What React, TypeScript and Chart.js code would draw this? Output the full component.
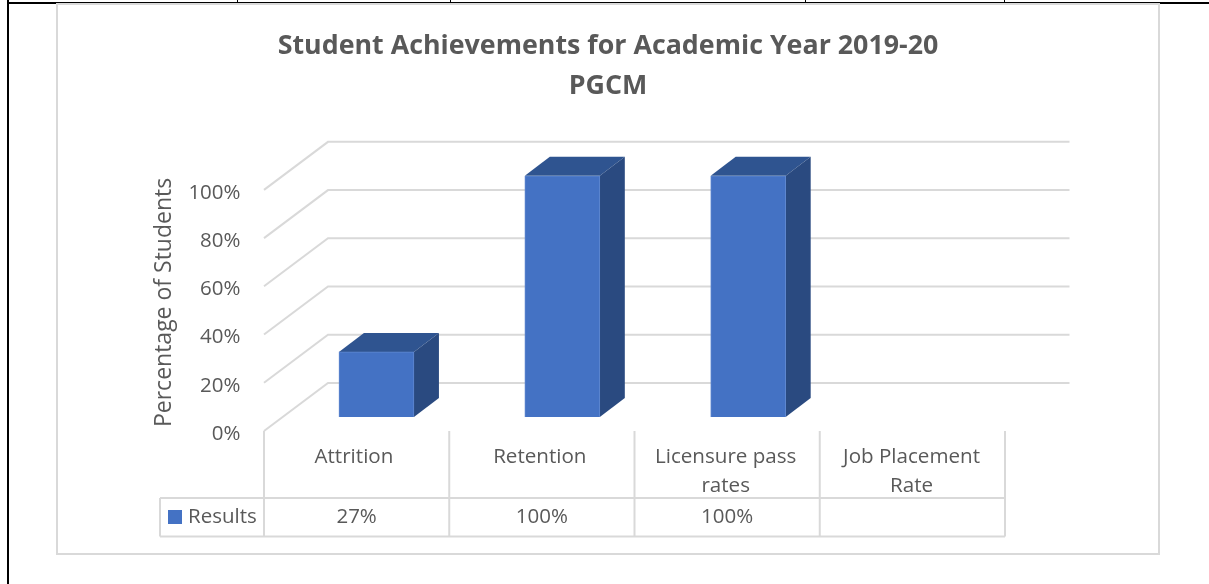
import React, { useEffect, useRef } from "react";
import { Chart, registerables } from "chart.js";

Chart.register(...registerables);

const titleLines = ["Student Achievements for Academic Year 2019-20", "PGCM"];
const axisTitle = "Percentage of Students  ";
const seriesName = "Results";
const categories = [["Attrition"], ["Retention"], ["Licensure pass", "rates"], ["Job Placement", "Rate"]];
const results: (number | null)[] = [27, 100, 100, null];
const FONT = '"Open Sans", sans-serif';
const TEXT = "#595959";
const GRID = "#d9d9d9";
const BLUE = "#4472c4";

const threeD = {
  id: "threeD",
  beforeDraw(chart: any) {
    const c = chart.ctx;
    c.save();
    c.fillStyle = "#fff";
    c.fillRect(0, 0, chart.width, chart.height);
    // page table rules
    c.fillStyle = "#000";
    c.fillRect(7, 2, 1202, 1);
    c.fillRect(7, 2, 49, 2);
    c.fillRect(1160, 2, 49, 2);
    c.fillRect(7, 0, 2, 584);
    [237, 450, 805, 1004].forEach((x) => c.fillRect(x, 0, 1, 3));
    // chart frame
    c.strokeStyle = GRID;
    c.lineWidth = 2;
    c.strokeRect(57, 4, 1102, 550);
    c.restore();
  },
  beforeDatasetsDraw(chart: any) {
    const c = chart.ctx;
    const { x, y } = chart.scales;
    const fx = -19.5, fy = 14, bx = 44.5, by = -34;
    c.save();
    c.strokeStyle = GRID;
    c.lineWidth = 2;
    y.ticks.forEach((t: any) => {
      const p = y.getPixelForValue(t.value);
      c.beginPath();
      c.moveTo(x.left + fx, p + fy);
      c.lineTo(x.left + bx, p + by);
      c.lineTo(x.right + bx - 2, p + by);
      c.stroke();
    });
    // data table
    const zero = y.getPixelForValue(0);
    const tableTop = zero + 81, tableBottom = zero + 119.5;
    const left = x.left + fx, step = 185.25;
    c.beginPath();
    c.moveTo(160, tableTop); c.lineTo(left + step * 4, tableTop);
    c.moveTo(160, tableBottom); c.lineTo(left + step * 4, tableBottom);
    c.moveTo(160, tableTop); c.lineTo(160, tableBottom);
    for (let i = 0; i <= 4; i++) {
      c.moveTo(left + step * i, zero + 14);
      c.lineTo(left + step * i, tableBottom);
    }
    c.stroke();
    c.fillStyle = BLUE;
    c.fillRect(168, 510, 14, 14);
    c.fillStyle = TEXT;
    c.font = "20.5px " + FONT;
    c.textBaseline = "middle";
    c.textAlign = "left";
    c.fillText(chart.data.datasets[0].label, 188, (tableTop + tableBottom) / 2);
    c.textAlign = "center";
    results.forEach((v, i) => {
      if (v != null) c.fillText(v + "%", left + step * (i + 0.5), (tableTop + tableBottom) / 2);
    });
    // bar depth
    const dx = 25, dy = -19;
    chart.getDatasetMeta(0).data.forEach((b: any, i: number) => {
      if (results[i] == null) return;
      const hw = b.width / 2;
      c.fillStyle = "#2f5490";
      c.beginPath();
      c.moveTo(b.x - hw, b.y);
      c.lineTo(b.x - hw + dx, b.y + dy);
      c.lineTo(b.x + hw + dx, b.y + dy);
      c.lineTo(b.x + hw, b.y);
      c.closePath();
      c.fill();
      c.fillStyle = "#2a4a80";
      c.beginPath();
      c.moveTo(b.x + hw, b.y);
      c.lineTo(b.x + hw + dx, b.y + dy);
      c.lineTo(b.x + hw + dx, b.base + dy);
      c.lineTo(b.x + hw, b.base);
      c.closePath();
      c.fill();
    });
    c.restore();
  },
};

export default function App() {
  const ref = useRef<HTMLCanvasElement>(null);
  useEffect(() => {
    const chart = new Chart(ref.current as HTMLCanvasElement, {
      type: "bar",
      data: {
        labels: categories as any,
        datasets: [
          {
            label: seriesName,
            data: results,
            backgroundColor: BLUE,
            borderColor: "#5f88d0",
            borderWidth: 1,
            barThickness: 75,
          },
        ],
      },
      options: {
        responsive: false,
        animation: false,
        layout: { padding: { left: 7, right: 0, top: 0, bottom: 0 } },
        plugins: {
          legend: { display: false },
          tooltip: { enabled: false },
          title: {
            display: true,
            text: titleLines,
            color: TEXT,
            font: { family: FONT, size: 26.8, weight: "bold", lineHeight: 1.49 },
            padding: { top: 26, bottom: 70 },
          },
        },
        scales: {
          x: {
            grid: { display: false },
            border: { display: false },
            ticks: {
              color: TEXT,
              font: { family: FONT, size: 20.6, lineHeight: 1.4 },
              padding: 17.5,
              labelOffset: -22.5,
              maxRotation: 0,
              autoSkip: false,
            },
            afterFit: (s: any) => { s.height = 167; },
          },
          y: {
            min: 0,
            max: 100,
            grid: { display: false },
            border: { display: false },
            ticks: {
              stepSize: 20,
              color: TEXT,
              font: { family: FONT, size: 20.5 },
              padding: 35,
              labelOffset: 17,
              callback: (v: any) => v + "%",
            },
            title: {
              display: true,
              text: axisTitle,
              color: TEXT,
              font: { family: FONT, size: 23 },
              padding: { top: 144, bottom: 0 },
            },
            afterFit: (s: any) => { s.width = 276.5; },
          },
          y2: {
            position: "right",
            display: true,
            grid: { display: false },
            border: { display: false },
            ticks: { display: false },
            afterFit: (s: any) => { s.width = 182; },
          },
        },
      },
      plugins: [threeD],
    } as any);
    return () => chart.destroy();
  }, []);
  return (
    <div style={{ position: "fixed", left: 0, top: 0 }}>
      <canvas ref={ref} width={1209} height={584} style={{ display: "block" }} />
    </div>
  );
}
